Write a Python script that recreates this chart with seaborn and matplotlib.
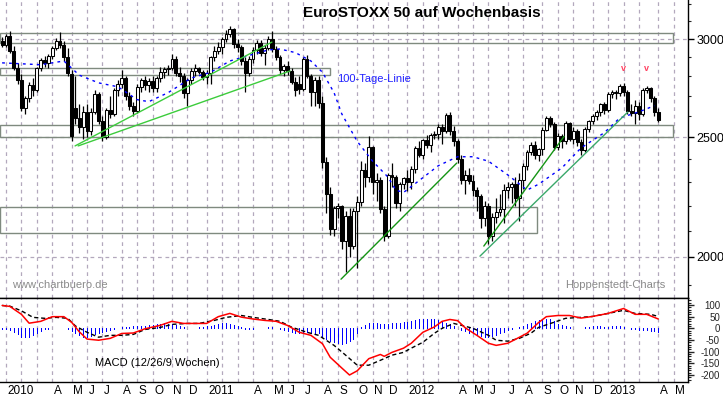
import numpy as np
import pandas as pd
import matplotlib
matplotlib.use('Agg')
import matplotlib.pyplot as plt
import matplotlib.transforms as mtransforms
import seaborn as sns
from matplotlib.patches import Rectangle
from matplotlib.ticker import FixedLocator, NullFormatter

# weekly candles EuroSTOXX 50, last week 2009 .. first week of April 2013
opens = [2990, 2965, 3018, 2935, 2845, 2780, 2640, 2690, 2755, 2730,
         2840, 2885, 2870, 2905, 2950, 2990, 2965, 2900, 2810, 2640,
         2590, 2545, 2620, 2530, 2620, 2710, 2575, 2500, 2630, 2610,
         2730, 2760, 2790, 2700, 2650, 2625, 2745, 2780, 2755, 2775,
         2740, 2790, 2820, 2835, 2845, 2890, 2815, 2800, 2715, 2780,
         2825, 2845, 2820, 2795, 2815, 2900, 2935, 2955, 3000, 3030,
         3055, 2975, 2955, 2880, 2815, 2890, 2940, 2980, 2925, 2950,
         3000, 2945, 2900, 2830, 2855, 2825, 2770, 2760, 2735, 2890,
         2800, 2720, 2780, 2665, 2385, 2250, 2105, 2190, 2200, 2060,
         2160, 2040, 2180, 2215, 2350, 2320, 2455, 2300, 2310, 2185,
         2080, 2330, 2320, 2210, 2290, 2315, 2300, 2355, 2450, 2420,
         2485, 2465, 2510, 2515, 2545, 2530, 2605, 2530, 2480, 2400,
         2310, 2330, 2305, 2265, 2240, 2150, 2200, 2080, 2155, 2175,
         2185, 2265, 2280, 2290, 2230, 2310, 2370, 2430, 2465, 2420,
         2445, 2535, 2590, 2560, 2455, 2505, 2480, 2565, 2490, 2530,
         2475, 2440, 2540, 2575, 2600, 2620, 2660, 2630, 2710, 2720,
         2715, 2750, 2720, 2625, 2615, 2650, 2610, 2730, 2740, 2690,
         2620]
highs = [3010, 3030, 3045, 2960, 2870, 2810, 2700, 2770, 2790, 2850,
         2895, 2905, 2915, 2960, 3005, 3040, 2990, 2950, 2830, 2800,
         2660, 2650, 2660, 2640, 2730, 2720, 2600, 2640, 2700, 2740,
         2780, 2830, 2800, 2720, 2670, 2760, 2790, 2800, 2790, 2800,
         2800, 2850, 2850, 2860, 2920, 2905, 2850, 2815, 2790, 2840,
         2865, 2850, 2830, 2830, 2905, 2960, 2985, 3010, 3050, 3075,
         3065, 3000, 2965, 2900, 2905, 2955, 2995, 2995, 2965, 3015,
         3045, 2960, 2910, 2865, 2880, 2845, 2795, 2800, 2900, 2910,
         2810, 2795, 2800, 2700, 2410, 2280, 2200, 2210, 2205, 2180,
         2190, 2190, 2240, 2390, 2380, 2505, 2460, 2340, 2320, 2200,
         2340, 2380, 2330, 2300, 2320, 2350, 2370, 2460, 2480, 2490,
         2510, 2520, 2530, 2560, 2560, 2615, 2620, 2550, 2490, 2420,
         2350, 2360, 2330, 2280, 2250, 2220, 2210, 2170, 2230, 2250,
         2290, 2300, 2300, 2320, 2340, 2380, 2440, 2475, 2480, 2450,
         2545, 2600, 2600, 2570, 2520, 2515, 2575, 2570, 2545, 2540,
         2490, 2545, 2580, 2610, 2630, 2665, 2670, 2720, 2730, 2730,
         2760, 2765, 2730, 2660, 2680, 2670, 2740, 2750, 2745, 2700,
         2640]
lows = [2955, 2955, 2925, 2830, 2760, 2625, 2610, 2670, 2700, 2720,
        2825, 2850, 2840, 2890, 2940, 2950, 2880, 2800, 2480, 2560,
        2520, 2490, 2500, 2510, 2610, 2560, 2480, 2490, 2590, 2600,
        2700, 2740, 2680, 2630, 2600, 2615, 2720, 2730, 2720, 2720,
        2720, 2770, 2790, 2805, 2830, 2800, 2770, 2690, 2650, 2760,
        2800, 2810, 2780, 2760, 2760, 2880, 2915, 2920, 2985, 3010,
        2950, 2930, 2860, 2720, 2800, 2870, 2920, 2905, 2860, 2940,
        2930, 2885, 2810, 2800, 2805, 2760, 2700, 2710, 2725, 2790,
        2650, 2650, 2640, 2360, 2170, 2085, 2080, 2150, 2030, 1945,
        2000, 2030, 1960, 2200, 2280, 2300, 2250, 2220, 2170, 2060,
        2070, 2280, 2190, 2180, 2270, 2260, 2270, 2340, 2410, 2400,
        2450, 2430, 2490, 2490, 2470, 2520, 2510, 2460, 2380, 2290,
        2250, 2290, 2240, 2180, 2110, 2120, 2050, 2060, 2130, 2160,
        2130, 2230, 2210, 2200, 2140, 2270, 2350, 2420, 2400, 2390,
        2420, 2530, 2545, 2440, 2440, 2450, 2470, 2480, 2470, 2460,
        2420, 2430, 2525, 2560, 2580, 2600, 2610, 2620, 2690, 2685,
        2700, 2700, 2610, 2600, 2560, 2580, 2600, 2715, 2670, 2600,
        2570]
closes = [2965, 3018, 2935, 2845, 2780, 2640, 2690, 2755, 2730, 2840,
          2885, 2870, 2905, 2950, 2990, 2965, 2900, 2815, 2505, 2590,
          2545, 2620, 2530, 2620, 2710, 2575, 2500, 2630, 2610, 2730,
          2760, 2790, 2700, 2650, 2625, 2745, 2780, 2755, 2775, 2740,
          2790, 2820, 2835, 2845, 2890, 2815, 2800, 2715, 2780, 2825,
          2845, 2820, 2795, 2815, 2900, 2935, 2955, 3000, 3030, 3055,
          2975, 2955, 2880, 2815, 2890, 2940, 2980, 2925, 2950, 3000,
          2945, 2900, 2830, 2855, 2825, 2770, 2730, 2735, 2890, 2800,
          2720, 2780, 2665, 2385, 2250, 2105, 2190, 2200, 2060, 2160,
          2040, 2180, 2215, 2350, 2320, 2455, 2300, 2310, 2185, 2080,
          2330, 2320, 2210, 2290, 2315, 2300, 2355, 2450, 2420, 2485,
          2465, 2510, 2515, 2545, 2530, 2605, 2530, 2480, 2400, 2310,
          2330, 2305, 2265, 2240, 2150, 2200, 2080, 2155, 2175, 2185,
          2265, 2280, 2290, 2230, 2310, 2370, 2430, 2465, 2420, 2445,
          2535, 2590, 2560, 2455, 2505, 2480, 2565, 2490, 2530, 2475,
          2440, 2540, 2575, 2600, 2620, 2660, 2630, 2710, 2720, 2715,
          2750, 2720, 2625, 2615, 2650, 2610, 2730, 2740, 2690, 2620,
          2580]

# 100-Tage-Linie, read at some weeks
ma_weeks = [0, 10, 16, 20, 25, 30, 35, 38, 43, 49, 54, 59, 64, 69, 72, 76, 80, 83, 86,
            88, 92, 96, 100, 102, 104, 108, 113, 118, 122, 126, 131, 136, 139, 145,
            150, 156, 160, 165, 169]
ma_values = [2870, 2860, 2880, 2805, 2765, 2745, 2680, 2670, 2715, 2790, 2820, 2880,
             2910, 2940, 2945, 2925, 2880, 2820, 2715, 2610, 2480, 2390, 2320, 2265,
             2255, 2305, 2370, 2410, 2410, 2390, 2330, 2265, 2290, 2360, 2450, 2520,
             2590, 2620, 2650]

# MACD (12/26/9)
macd_weeks = [0, 2, 5, 7, 10, 13, 16, 18, 20, 22, 25, 28, 31, 34, 37, 41, 44, 47, 50,
              53, 56, 59, 62, 65, 68, 71, 74, 77, 80, 83, 85, 88, 90, 92, 95, 98, 99,
              101, 104, 106, 109, 112, 114, 116, 118, 120, 123, 126, 128, 131, 133,
              136, 139, 141, 144, 147, 150, 153, 157, 161, 164, 167, 170]
macd_values = [98, 94, 60, 22, 30, 50, 50, 26, -15, -46, -51, -43, -22, -20, -2, 13,
               30, 21, 21, 21, 50, 64, 48, 40, 34, 30, 12, -17, -30, -66, -124, -170,
               -200, -182, -130, -112, -120, -103, -85, -64, -17, 6, 30, 38, 33, 2,
               -30, -64, -73, -64, -47, -21, 25, 50, 55, 55, 44, 51, 64, 85, 60, 60, 40]
signal_weeks = [0, 2, 5, 8, 11, 14, 17, 19, 22, 25, 28, 31, 34, 37, 41, 44, 48, 51,
                55, 58, 62, 65, 69, 72, 75, 79, 82, 86, 89, 92, 95, 98, 101, 104, 106,
                109, 112, 114, 117, 119, 122, 126, 128, 131, 134, 137, 139, 143, 146,
                150, 153, 157, 161, 164, 168, 170]
signal_values = [98, 95, 75, 47, 43, 47, 43, 10, -17, -38, -30, -30, -26, -5, 4, 17,
                 21, 21, 34, 47, 55, 47, 38, 30, 5, -17, -30, -73, -115, -158, -158,
                 -137, -115, -103, -85, -60, -21, 0, 21, 13, 0, -30, -51, -55, -43,
                 -21, 4, 26, 43, 47, 51, 64, 77, 64, 60, 51]
hist_values = [-2, -3, -8, -15, -25, -35, -38, -35, -28, -20,
               -12, -3, -2, 0, 2, 3, 1, -3, -12, -20,
               -28, -35, -38, -33, -25, -18, -14, -10, -6, -3,
               2, 4, 6, 6, 8, 8, 10, 12, 14, 16,
               18, 20, 22, 20, 18, 14, 8, 4, 2, 1,
               3, 5, 6, 8, 12, 16, 20, 22, 22, 20,
               16, 10, 4, -2, -4, -3, 0, 2, 3, 4,
               4, 0, -4, -8, -12, -16, -18, -20, -14, -16,
               -20, -18, -22, -35, -45, -55, -60, -64, -65, -62,
               -55, -45, -20, 5, 15, 22, 25, 22, 20, 18,
               20, 22, 22, 24, 26, 28, 30, 34, 38, 40,
               42, 42, 40, 36, 30, 24, 18, 10, 2, -6,
               -12, -18, -22, -28, -32, -36, -38, -34, -28, -20,
               -14, -8, -4, 2, 6, 12, 18, 24, 30, 36,
               40, 42, 38, 30, 20, 14, 10, 6, 3, 2,
               3, 4, 6, 8, 8, 8, 7, 6, 8, 10,
               10, 6, 2, -2, -4, -6, -6, -8, -10, -12,
               -14]

# trend lines (week, price) -> (week, price)
trend_lines = [((18.9, 2459), (69.9, 2983), '#3ccc3c'),
               ((19.7, 2459), (74.6, 2827), '#3ccc3c'),
               ((87.8, 1919), (117.8, 2382), '#149414'),
               ((124.8, 2041), (145.6, 2503), '#149414'),
               ((123.8, 2003), (162.1, 2619), '#3aa86a')]
# price zones: (first week, last week, low, high)
zones = [(-0.55, 173.8, 2978, 3034),
         (-0.55, 84.9, 2806, 2843),
         (-0.55, 173.8, 2500, 2556),
         (-0.55, 138.6, 2091, 2195)]
top_marks = [161, 167]

month_letters = {4: 'A', 5: 'M', 6: 'J', 7: 'J', 8: 'A', 9: 'S',
                 10: 'O', 11: 'N', 12: 'D', 2: '', 3: ''}

sns.set_style('white')
plt.rcParams['font.family'] = ['Liberation Sans', 'DejaVu Sans']
plt.rcParams['axes.unicode_minus'] = False

n = len(closes)
weeks = np.arange(n)
dates = [pd.Timestamp('2009-12-31')] + list(pd.date_range('2010-01-08', periods=177, freq='W-FRI'))
month_idx = [i for i in range(1, len(dates)) if dates[i].month != dates[i - 1].month]

grid_c = '#b3a8bd'
fig = plt.figure(figsize=(7.23, 3.97), dpi=100)
ax = fig.add_axes([0, 1 - 298 / 397, 688 / 723, 298 / 397])
ax2 = fig.add_axes([0, 1 - 382 / 397, 688 / 723, 84 / 397])

xlim = (-0.55, 177.7)

# ---- price panel
ax.set_yscale('log')
ax.set_xlim(*xlim)
ax.set_ylim(1853, 3226)

for x0, x1, lo, hi in zones:
    ax.add_patch(Rectangle((x0, lo), x1 - x0, hi - lo, fill=False,
                           edgecolor='#7f8a7f', lw=1, zorder=2))

o = np.array(opens); h = np.array(highs); l = np.array(lows); c = np.array(closes)
ax.vlines(weeks, l, h, color='black', lw=0.9, zorder=3)
up = c >= o
ax.bar(weeks, np.abs(c - o), bottom=np.minimum(o, c), width=0.75,
       color=np.where(up, 'white', 'black'), edgecolor='black', lw=0.75, zorder=4)

sns.lineplot(x=ma_weeks, y=ma_values, ax=ax, color='#0000ff', lw=1,
             linestyle=(0, (2, 3)), zorder=5)

for (xa, pa), (xb, pb), col in trend_lines:
    sns.lineplot(x=[xa, xb], y=[pa, pb], ax=ax, color=col, lw=1, zorder=6)

for w in top_marks:
    ax.text(w, 2840, 'v', color='#ff4060', fontsize=6.5, fontweight='bold',
            ha='center', va='center')

ax.yaxis.set_major_locator(FixedLocator([2000, 2500, 3000]))
ax.set_yticklabels(['2000', '2500', '3000'])
ax.yaxis.set_minor_locator(FixedLocator(list(range(1900, 3300, 100))))
ax.yaxis.set_minor_formatter(NullFormatter())
ax.yaxis.tick_right()
ax.tick_params(axis='y', which='major', length=4, width=1, pad=2, labelsize=9, colors='black')
ax.tick_params(axis='y', which='minor', length=2.5, width=0.8)
ax.set_xticks(month_idx)
ax.tick_params(axis='x', length=0, labelbottom=False)
ax.grid(axis='both', which='major', color=grid_c, ls=(0, (3, 3)), lw=0.9)
ax.set_axisbelow(True)
for s in ['left', 'top']:
    ax.spines[s].set_visible(False)
for s in ['right', 'bottom']:
    ax.spines[s].set_color('black')
    ax.spines[s].set_linewidth(1)
ax.set_xlabel('')
ax.set_ylabel('')

# ---- MACD panel
ax2.set_xlim(*xlim)
ax2.set_ylim(-230, 130)
ax2.vlines(weeks, 0, hist_values, color='#0000ff', lw=0.6, antialiased=False, zorder=3)
sns.lineplot(x=signal_weeks, y=signal_values, ax=ax2, color='black', lw=1,
             linestyle=(0, (3, 2)), zorder=4)
sns.lineplot(x=macd_weeks, y=macd_values, ax=ax2, color='#ff0000', lw=1.1, zorder=5)

ax2.set_xticks(month_idx)
ax2.tick_params(axis='x', length=11, width=1, direction='out', labelbottom=False, color='black')
ax2.grid(axis='x', which='major', color=grid_c, ls=(0, (3, 3)), lw=0.9)
ax2.set_axisbelow(True)
yt = list(range(-200, 101, 50))
ax2.yaxis.tick_right()
ax2.set_yticks(yt, [str(v) for v in yt], ha='right')
ax2.yaxis.set_minor_locator(FixedLocator(list(range(-220, 121, 10))))
ax2.tick_params(axis='y', which='major', length=4, width=1, pad=19, labelsize=7)
ax2.tick_params(axis='y', which='minor', length=2, width=0.8)
ax2.spines['left'].set_visible(False)
for s in ['right', 'bottom', 'top']:
    ax2.spines[s].set_color('black')
    ax2.spines[s].set_linewidth(1)
ax2.set_xlabel('')
ax2.set_ylabel('')

lab_tr = mtransforms.blended_transform_factory(ax2.transData, ax2.transAxes)
for i in month_idx:
    if i > xlim[1]:
        continue
    d = dates[i]
    lab = str(d.year) if d.month == 1 else month_letters[d.month]
    ax2.text(i + 0.35, -0.113, lab, transform=lab_tr, ha='left', va='center',
             fontsize=8.5, color='black', clip_on=False)

# ---- texts
fig.text(0.584, 0.966, 'EuroSTOXX 50 auf Wochenbasis', ha='center', va='center',
         fontsize=11, fontweight='bold', color='black')
fig.text(337 / 723, 1 - 79 / 397, '100-Tage-Linie', ha='left', va='center',
         fontsize=8, color='#2020ff')
fig.text(12 / 723, 1 - 285 / 397, 'www.chartbuero.de', ha='left', va='center',
         fontsize=8, color='#8a8a8a')
fig.text(565 / 723, 1 - 285 / 397, 'Hoppenstedt-Charts', ha='left', va='center',
         fontsize=8, color='#8a8a8a')
fig.text(95 / 723, 1 - 363 / 397, 'MACD (12/26/9 Wochen)', ha='left', va='center',
         fontsize=8, color='black')

fig.savefig('out.png', dpi=100, facecolor='white')
